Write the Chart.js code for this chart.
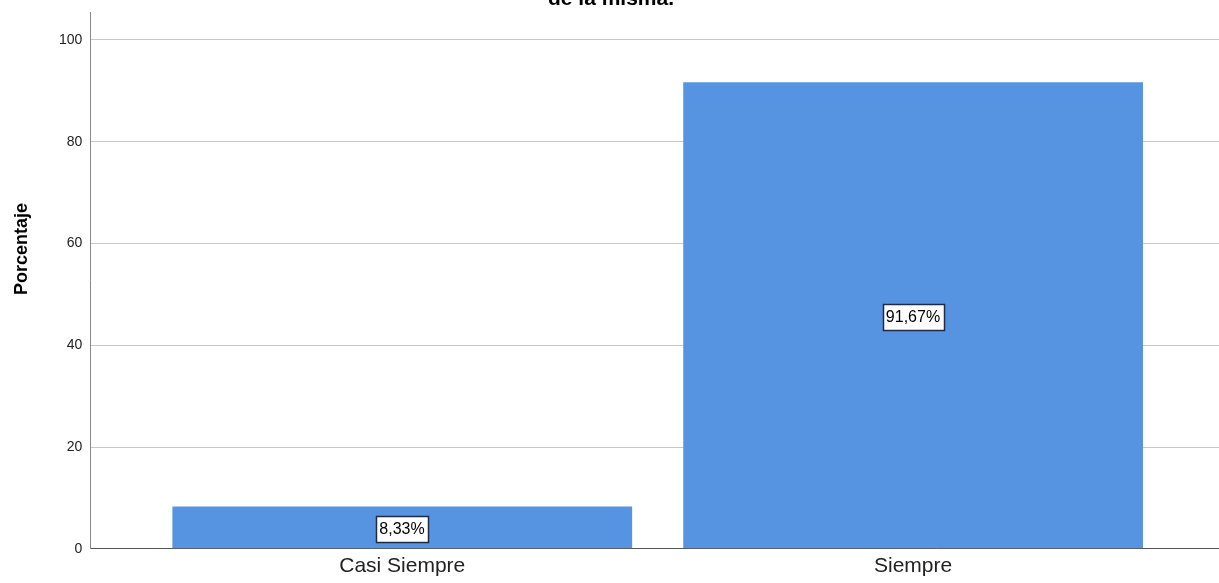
<!DOCTYPE html>
<html>
<head>
<meta charset="utf-8">
<script src="https://cdn.jsdelivr.net/npm/chart.js@4.4.0/dist/chart.umd.min.js"></script>
<style>
  html, body { margin: 0; padding: 0; background: #fff; }
  #wrap { width: 1219px; height: 583px; position: relative; }
</style>
</head>
<body>
<div id="wrap"><canvas id="bar-chart"></canvas></div>
<script>
// chart values
var categories = ["Casi Siempre", "Siempre"];
var percentages = [8.33, 91.67];
var percentLabels = ["8,33%", "91,67%"];
var yTicks = [0, 20, 40, 60, 80, 100];
var titleText = "de la misma.";
var yTitle = "Porcentaje";

var FONT = '"Liberation Sans", Arial, sans-serif';

// title cut off at the top of the picture + y axis title
var extraText = {
    id: 'extraText',
    afterDraw: function(chart) {
        var ctx = chart.ctx;
        ctx.save();
        ctx.font = 'bold 21px ' + FONT;
        ctx.fillStyle = '#000';
        ctx.textAlign = 'center';
        ctx.textBaseline = 'alphabetic';
        ctx.fillText(titleText, 611, 5);

        ctx.translate(22, 249);
        ctx.rotate(-Math.PI / 2);
        ctx.font = 'bold 18px ' + FONT;
        ctx.textBaseline = 'middle';
        ctx.fillText(yTitle, 0, 0);
        ctx.restore();
    }
};

// boxed value labels in the middle of each bar
var boxLabels = {
    id: 'boxLabels',
    afterDatasetsDraw: function(chart) {
        var ctx = chart.ctx;
        var meta = chart.getDatasetMeta(0);
        ctx.save();
        ctx.font = '16px ' + FONT;
        ctx.textAlign = 'center';
        ctx.textBaseline = 'middle';
        meta.data.forEach(function(bar, i) {
            var txt = percentLabels[i];
            var cy = Math.round((bar.y + bar.base) / 2) + 2;
            var cx = Math.round(bar.x);
            var w = Math.round(ctx.measureText(txt).width + 7);
            var h = 26;
            var left = Math.round(cx - w / 2);
            var top = cy - h / 2;
            ctx.fillStyle = '#fff';
            ctx.fillRect(left, top, w, h);
            ctx.strokeStyle = '#1f2a44';
            ctx.lineWidth = 1.5;
            ctx.strokeRect(left + 0.5, top + 0.5, w, h);
            ctx.fillStyle = '#000';
            ctx.fillText(txt, cx, cy + 1);
        });
        ctx.restore();
    }
};

function barChartDisplay() {
    new Chart(document.getElementById("bar-chart"), {
        type: 'bar',
        data: {
            datasets: [{
                data: percentages.map(function(v, i) { return { x: i, y: v }; }),
                backgroundColor: '#5694e2',
                borderWidth: 0,
                barPercentage: 0.9,
                categoryPercentage: 1
            }]
        },
        options: {
            responsive: true,
            maintainAspectRatio: false,
            animation: false,
            layout: { padding: { top: 12, left: 51, right: 0, bottom: 0 } },
            plugins: {
                legend: { display: false },
                title: { display: false },
                tooltip: { enabled: false }
            },
            scales: {
                x: {
                    type: 'linear',
                    offset: false,
                    min: -0.6106,
                    max: 1.5988,
                    afterBuildTicks: function(axis) {
                        axis.ticks = categories.map(function(c, i) { return { value: i }; });
                    },
                    grid: { display: false, drawTicks: false },
                    border: { display: true, color: '#555', width: 1 },
                    ticks: {
                        autoSkip: false,
                        maxRotation: 0,
                        padding: 4.5,
                        color: '#222',
                        font: { family: FONT, size: 21 },
                        callback: function(value) { return categories[value]; }
                    }
                },
                y: {
                    min: 0,
                    max: 105.5,
                    afterBuildTicks: function(axis) {
                        axis.ticks = yTicks.map(function(v) { return { value: v }; });
                    },
                    afterFit: function(axis) {
                        axis.paddingTop = 0;
                        axis.paddingBottom = 0;
                    },
                    grid: { color: '#c8c8c8', drawTicks: false },
                    border: { display: true, color: '#888', width: 1 },
                    ticks: {
                        padding: 8,
                        color: '#222',
                        font: { family: FONT, size: 14 }
                    }
                }
            }
        },
        plugins: [extraText, boxLabels]
    });
}

barChartDisplay();
</script>
</body>
</html>
